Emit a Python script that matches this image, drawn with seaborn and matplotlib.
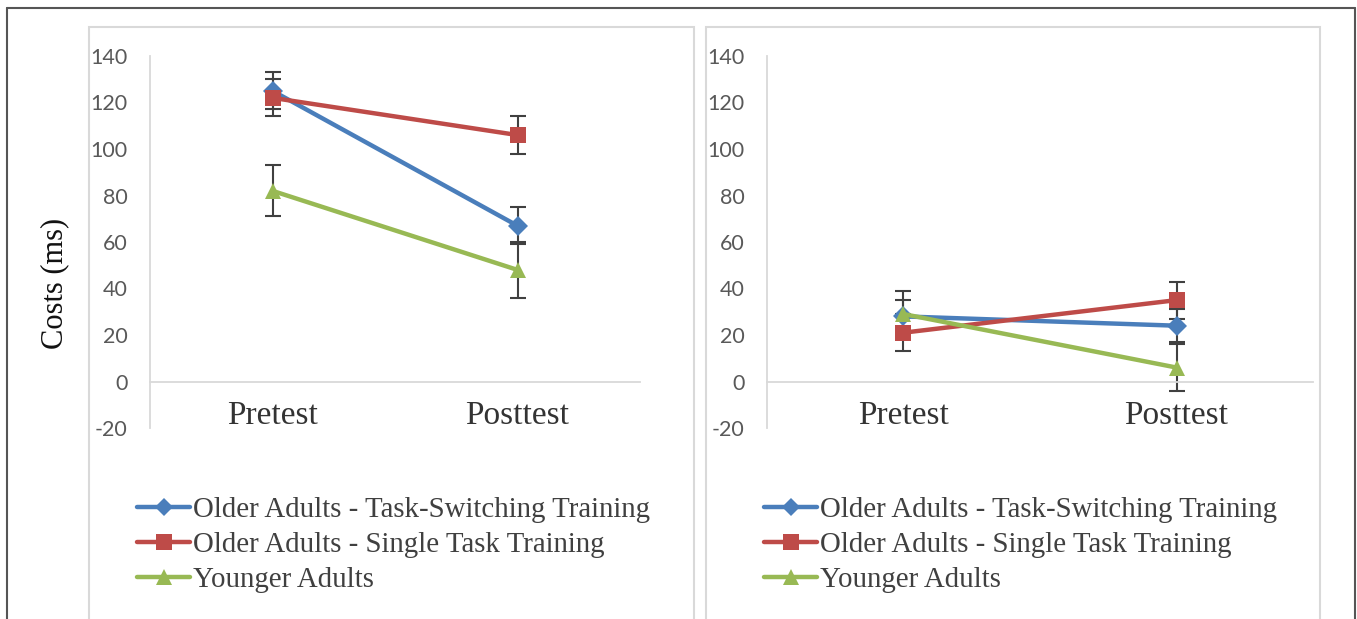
import numpy as np
import pandas as pd
import matplotlib
matplotlib.use("Agg")
import matplotlib.pyplot as plt
import seaborn as sns
from matplotlib.lines import Line2D
from matplotlib.patches import Rectangle

# =========================
# DATA
# =========================
categories = ["Pretest", "Posttest"]
groups = [
    "Older Adults - Task-Switching Training",
    "Older Adults - Single Task Training",
    "Younger Adults",
]

# left panel (means and error bar half-widths)
left_ts = [125, 67]
left_ts_err = [8, 8]
left_st = [122, 106]
left_st_err = [8, 8]
left_ya = [82, 48]
left_ya_err = [11, 12]

# right panel
right_ts = [28, 24]
right_ts_err = [7, 7]
right_st = [21, 35]
right_st_err = [8, 8]
right_ya = [29, 6]
right_ya_err = [10, 10]

y_ticks = [-20, 0, 20, 40, 60, 80, 100, 120, 140]

# =========================
# STYLE
# =========================
COLORS = ["#4a7ebb", "#be4b48", "#98b954"]
MARKERS = ["D", "s", "^"]
MSIZES = [10, 12, 12]
ERR_COLOR = "#404040"
GRID_GRAY = "#d9d9d9"
TICK_GRAY = "#595959"
SERIF = ["Liberation Serif", "DejaVu Serif"]
SANS = ["Lato", "DejaVu Sans"]

sns.set_style("white")
plt.rcParams["font.family"] = SANS
plt.rcParams["axes.unicode_minus"] = False


def make_frame(means, errs):
    rows = []
    for g, m, e in zip(groups, means, errs):
        for c, v, ev in zip(categories, m, e):
            rows.append({"group": g, "phase": c, "cost": v, "err": ev})
    return pd.DataFrame(rows)


def draw_panel(ax, df):
    # error bars behind the lines
    for i, g in enumerate(groups):
        sub = df[df["group"] == g]
        ax.errorbar(
            [categories.index(p) for p in sub["phase"]], sub["cost"],
            yerr=sub["err"], fmt="none", ecolor=ERR_COLOR,
            elinewidth=1.5, capsize=6, capthick=1.5, zorder=1,
        )
    for i, g in enumerate(groups):
        sub = df[df["group"] == g].copy()
        sub["pos"] = [categories.index(p) for p in sub["phase"]]
        sns.lineplot(
            data=sub, x="pos", y="cost", color=COLORS[i], marker=MARKERS[i],
            markersize=MSIZES[i], markeredgewidth=0, linewidth=3.2,
            ax=ax, legend=False, sort=False, zorder=2 + i,
        )

    ax.set_xlim(-0.5, 1.5)
    ax.set_ylim(-20, 140)
    ax.set_yticks(y_ticks)
    ax.set_xticks(range(len(categories)))
    ax.set_xticklabels(categories)
    ax.tick_params(axis="y", length=0, pad=16, labelsize=15.5,
                   labelcolor=TICK_GRAY)
    ax.tick_params(axis="x", length=0, pad=14, labelsize=24,
                   labelcolor="#333333", labelfontfamily=SERIF[0])
    ax.set_xlabel("")
    ax.set_ylabel("")

    for s in ["top", "right"]:
        ax.spines[s].set_visible(False)
    ax.spines["left"].set_color(GRID_GRAY)
    ax.spines["left"].set_linewidth(1.3)
    ax.spines["bottom"].set_position(("data", 0))
    ax.spines["bottom"].set_color(GRID_GRAY)
    ax.spines["bottom"].set_linewidth(1.3)
    ax.patch.set_alpha(0)


W, H = 1357, 619
fig = plt.figure(figsize=(W / 100, H / 100), dpi=100)

# outer frame and the two chart-area borders
fig.add_artist(Line2D([7 / W, 1355 / W], [1 - 8 / H, 1 - 8 / H],
                      color="#555555", lw=1.5, transform=fig.transFigure))
fig.add_artist(Line2D([7 / W, 7 / W], [0, 1 - 8 / H],
                      color="#555555", lw=1.5, transform=fig.transFigure))
fig.add_artist(Line2D([1355 / W, 1355 / W], [0, 1 - 8 / H],
                      color="#555555", lw=1.5, transform=fig.transFigure))
for x0, x1 in [(89, 694), (706, 1320)]:
    fig.add_artist(Rectangle((x0 / W, -0.05), (x1 - x0) / W, 1.05 - 27 / H,
                             fill=False, edgecolor=GRID_GRAY, lw=1.5,
                             transform=fig.transFigure))

ax_l = fig.add_axes([150 / W, 1 - 428 / H, 490 / W, 372 / H])
ax_r = fig.add_axes([767 / W, 1 - 428 / H, 546 / W, 372 / H])

draw_panel(ax_l, make_frame([left_ts, left_st, left_ya],
                            [left_ts_err, left_st_err, left_ya_err]))
draw_panel(ax_r, make_frame([right_ts, right_st, right_ya],
                            [right_ts_err, right_st_err, right_ya_err]))

fig.text(55 / W, 1 - 283 / H, "Costs (ms)", rotation=90, ha="center",
         va="center", fontfamily=SERIF, fontsize=22, color="#111111")

# legends
handles = [
    Line2D([0], [0], color=COLORS[i], lw=3.2, marker=MARKERS[i],
           markersize=MSIZES[i] - 1, markeredgewidth=0)
    for i in range(len(groups))
]
for x_anchor in [137, 764]:
    fig.legend(
        handles, groups, loc="upper left",
        bbox_to_anchor=(x_anchor / W, 1 - 497 / H),
        frameon=False, borderpad=0, borderaxespad=0,
        handlelength=1.85, handletextpad=0.1, labelspacing=0.3,
        prop={"family": SERIF, "size": 20.8}, labelcolor="#404040",
    )

fig.savefig("out.png", dpi=100)
